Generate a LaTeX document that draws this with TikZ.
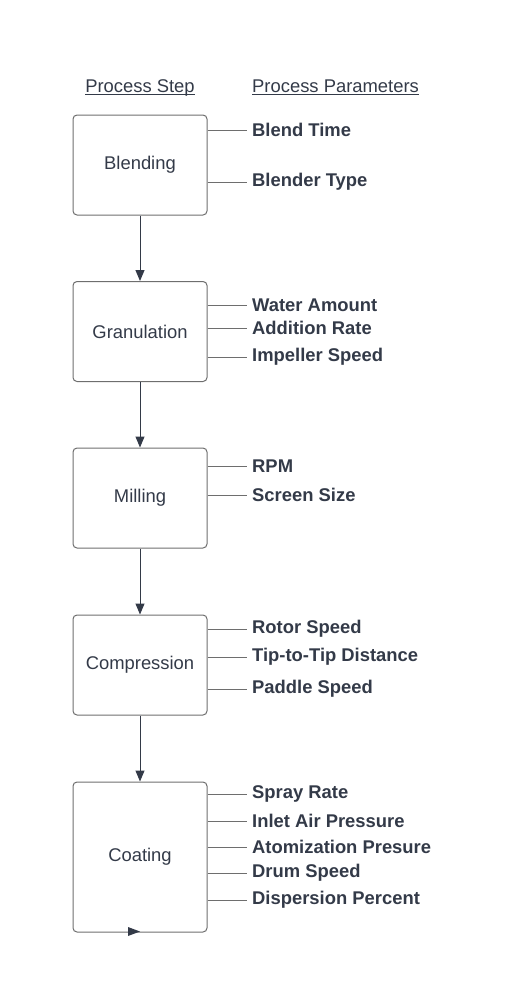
\documentclass[tikz,border=0pt]{standalone}
\usepackage{fontspec}
\setmainfont{Liberation Sans}
\usetikzlibrary{arrows.meta}
\definecolor{FlowText}{HTML}{333A48}
\definecolor{FlowLine}{HTML}{6E6E6E}

\tikzset{
  stepbox/.style={draw=FlowLine, line width=1pt, rounded corners=4pt,
    minimum width=134pt, minimum height=100pt, inner sep=0pt,
    text=FlowText, font=\fontsize{18.4}{20}\selectfont},
  param/.style={anchor=west, inner xsep=5pt, inner ysep=0pt,
    text=FlowText, font=\fontsize{18.4}{20}\selectfont\bfseries},
  header/.style={inner sep=0pt, text=FlowText, font=\fontsize{18.4}{20}\selectfont},
  flow/.style={draw=FlowText, line width=1pt, -{Triangle[length=11pt,width=9pt]}},
  tick/.style={draw=FlowLine, line width=1pt}
}

\begin{document}
\begin{tikzpicture}[x=1pt,y=-1pt]
  \useasboundingbox (0,0) rectangle (523,999);

  % column headers
  \node[header] (stephead) at (140,88) {Process Step};
  \node[header, anchor=west] (parhead) at (252,86) {Process Parameters};
  \draw[FlowText, line width=0.8pt] ([yshift=-1.8pt]stephead.base west) -- ([yshift=-1.8pt]stephead.base east);
  \draw[FlowText, line width=0.8pt] ([yshift=-1.8pt]parhead.base west) -- ([yshift=-1.8pt]parhead.base east);

  % process steps
  \node[stepbox] (blend) at (140,165) {Blending};
  \node[stepbox] (gran) at (140,331.5) {Granulation};
  \node[stepbox] (mill) at (140,498) {Milling};
  \node[stepbox] (comp) at (140,665) {Compression};
  \node[stepbox, minimum height=150pt] (coat) at (140,857) {Coating};

  \draw[flow] (blend) -- (gran);
  \draw[flow] (gran) -- (mill);
  \draw[flow] (mill) -- (comp);
  \draw[flow] (comp) -- (coat);
  \fill[FlowText] (128,927) -- (140,931.5) -- (128,936) -- cycle;

  % parameters
  \foreach \y/\txt [count=\i] in {130/Blend Time, 182/Blender Type} {
    \node[param] (blend-p\i) at (247,\y) {\txt};
    \draw[tick] (blend.east |- blend-p\i.west) -- (blend-p\i.west);
  }
  \foreach \y/\txt [count=\i] in {305/Water Amount, 328/Addition Rate, 357/Impeller Speed} {
    \node[param] (gran-p\i) at (247,\y) {\txt};
    \draw[tick] (gran.east |- gran-p\i.west) -- (gran-p\i.west);
  }
  \foreach \y/\txt [count=\i] in {466/RPM, 495/Screen Size} {
    \node[param] (mill-p\i) at (247,\y) {\txt};
    \draw[tick] (mill.east |- mill-p\i.west) -- (mill-p\i.west);
  }
  \foreach \y/\txt [count=\i] in {629/Rotor Speed, 657/Tip-to-Tip Distance, 689/Paddle Speed} {
    \node[param] (comp-p\i) at (247,\y) {\txt};
    \draw[tick] (comp.east |- comp-p\i.west) -- (comp-p\i.west);
  }
  \foreach \y/\txt [count=\i] in {794/Spray Rate, 821/Inlet Air Pressure, 847/Atomization Presure, 873/Drum Speed, 900/Dispersion Percent} {
    \node[param] (coat-p\i) at (247,\y) {\txt};
    \draw[tick] (coat.east |- coat-p\i.west) -- (coat-p\i.west);
  }
\end{tikzpicture}
\end{document}
